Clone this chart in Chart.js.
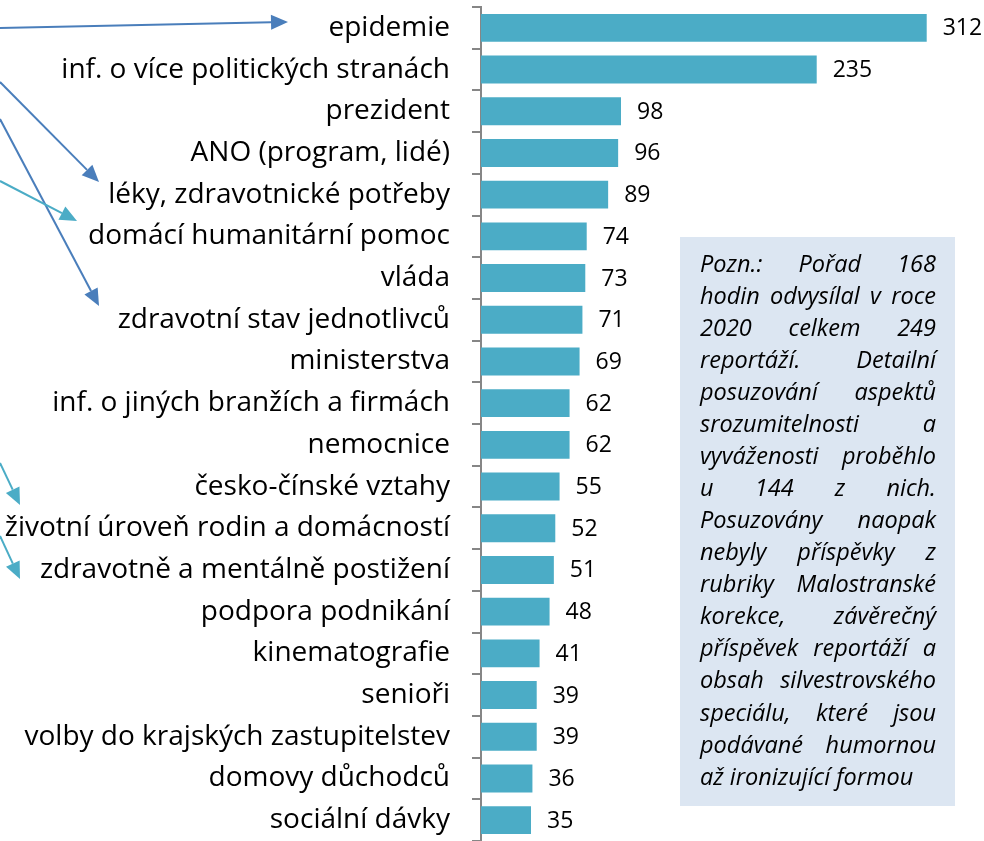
<!DOCTYPE html>
<html><head><meta charset="utf-8">
<script src="https://cdn.jsdelivr.net/npm/chart.js@4/dist/chart.umd.min.js"></script>
<style>html,body{margin:0;padding:0;background:#fff;overflow:hidden}</style>
</head><body>
<canvas id="c" width="984" height="841" style="display:block"></canvas>
<script>
const categories = ["epidemie","inf. o více politických stranách","prezident","ANO (program, lidé)","léky, zdravotnické potřeby","domácí humanitární pomoc","vláda","zdravotní stav jednotlivců","ministerstva","inf. o jiných branžích a firmách","nemocnice","česko-čínské vztahy","životní úroveň rodin a domácností","zdravotně a mentálně postižení","podpora podnikání","kinematografie","senioři","volby do krajských zastupitelstev","domovy důchodců","sociální dávky"];
const values = [312,235,98,96,89,74,73,71,69,62,62,55,52,51,48,41,39,39,36,35];
const noteLines = ["Pozn.: Pořad 168","hodin odvysílal v roce","2020 celkem 249","reportáží. Detailní","posuzování aspektů","srozumitelnosti a","vyváženosti proběhlo","u 144 z nich.","Posuzovány naopak","nebyly příspěvky z","rubriky Malostranské","korekce, závěrečný","příspěvek reportáží a","obsah silvestrovského","speciálu, které jsou","podávané humornou","až ironizující formou"];

const FAMILY = "'Open Sans', Lato, sans-serif";
const BAR = '#4BACC6';
const AXIS = '#868686';

const valueLabels = {
  id:'valueLabels',
  afterDatasetsDraw(chart){
    const ctx = chart.ctx, meta = chart.getDatasetMeta(0);
    ctx.save();
    ctx.font = '23px ' + FAMILY;
    ctx.fillStyle = '#000';
    ctx.textBaseline = 'middle';
    ctx.textAlign = 'left';
    meta.data.forEach((b,i)=>{ ctx.fillText(String(values[i]), b.x + 16, b.y + 1); });
    ctx.restore();
  }
};

function arrow(ctx, x1,y1,x2,y2,color){
  const a = Math.atan2(y2-y1, x2-x1), L = 17, W = 7.5;
  const bx = x2 - L*Math.cos(a), by = y2 - L*Math.sin(a);
  ctx.strokeStyle = color; ctx.fillStyle = color; ctx.lineWidth = 2;
  ctx.beginPath(); ctx.moveTo(x1,y1); ctx.lineTo(bx,by); ctx.stroke();
  ctx.beginPath(); ctx.moveTo(x2,y2);
  ctx.lineTo(bx + W*Math.sin(a), by - W*Math.cos(a));
  ctx.lineTo(bx - W*Math.sin(a), by + W*Math.cos(a));
  ctx.closePath(); ctx.fill();
}

const overlay = {
  id:'overlay',
  afterDraw(chart){
    const ctx = chart.ctx;
    ctx.save();
    arrow(ctx, 0,28, 288,22, '#4A7EBB');
    arrow(ctx, 0,82, 99,182, '#4A7EBB');
    arrow(ctx, 0,119, 99,306, '#4A7EBB');
    arrow(ctx, 0,181, 77,221, '#4BACC6');
    arrow(ctx, 0,463, 20,505, '#4BACC6');
    arrow(ctx, 0,536, 20,579, '#4BACC6');
    ctx.fillStyle = '#DCE6F2';
    ctx.fillRect(680,237,275,569);
    ctx.fillStyle = '#000';
    ctx.font = 'italic 23.5px ' + FAMILY;
    ctx.textBaseline = 'middle';
    ctx.textAlign = 'left';
    const left = 700, width = 236;
    noteLines.forEach((line,i)=>{
      const y = 265 + i*32.06;
      const words = line.split(' ');
      if (i === noteLines.length-1 || words.length === 1){
        ctx.fillText(line, left, y); return;
      }
      const wsum = words.reduce((s,w)=>s+ctx.measureText(w).width,0);
      const gap = Math.max(4, (width - wsum)/(words.length-1));
      let x = left;
      words.forEach(w=>{ ctx.fillText(w, x, y); x += ctx.measureText(w).width + gap; });
    });
    ctx.restore();
  }
};

new Chart(document.getElementById('c'), {
  type:'bar',
  data:{ labels: categories, datasets:[{ data: values, backgroundColor: BAR, borderWidth:0, barPercentage:0.67, categoryPercentage:1 }]},
  options:{
    indexAxis:'y', responsive:false, animation:false, devicePixelRatio:1,
    layout:{ padding:{ top:7, right:3, bottom:0, left:0 } },
    plugins:{ legend:{display:false}, tooltip:{enabled:false} },
    scales:{
      x:{ display:false, min:0, max:350 },
      y:{
        afterFit(s){ s.width = 481; s.paddingTop = 0; s.paddingBottom = 0; },
        border:{ display:true, color:AXIS, width:2 },
        grid:{ drawOnChartArea:false, drawTicks:true, tickLength:9, color:AXIS, lineWidth:2, offset:true },
        ticks:{ font:{ size:28, family:FAMILY }, color:'#000', padding:22, autoSkip:false }
      }
    }
  },
  plugins:[valueLabels, overlay]
});
</script>
</body></html>
